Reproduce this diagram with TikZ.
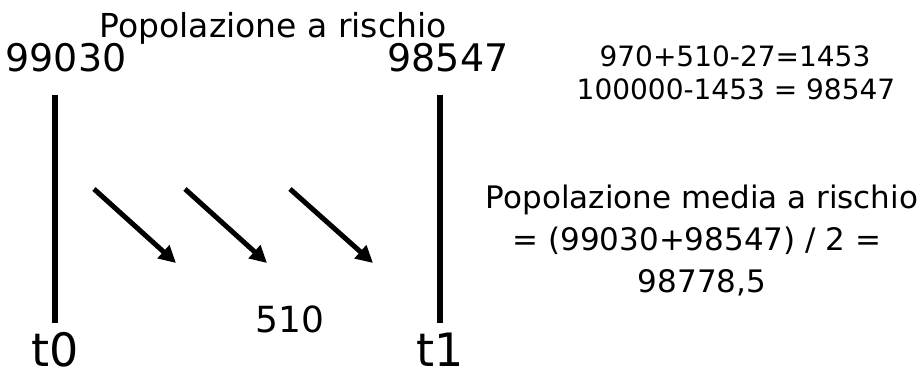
\documentclass[tikz,border=0pt]{standalone}
\usepackage{fontspec}
\setmainfont{DejaVu Sans}
\usepackage{tikz}
\usetikzlibrary{arrows.meta}
\tikzset{
  % --- text ------------------------------------------------------------------
  txt/.style={inner sep=0pt,anchor=base,font=\fontsize{#1}{#1}\selectfont},
  head/.style={txt=33},
  bignum/.style={txt=38},
  calc/.style={txt=28},
  media/.style={txt=31},
  tlab/.style={txt=46},
  % --- time axis and flows ---------------------------------------------------
  tline/.style={line width=5.5pt},
  flow/.style={-{Triangle[length=17pt,width=17pt]},line width=5pt},
}

\begin{document}
\begin{tikzpicture}[x=1pt, y=-1pt]
  \useasboundingbox (0,0) rectangle (924,377);

  \node[head]   (pop)  at (273,38)  {Popolazione a rischio};
  \node[bignum] (n0)   at (66,72)   {99030};
  \node[bignum] (n1)   at (448,72)  {98547};

  \node[calc]   (c1)   at (735,67)  {970+510-27=1453};
  \node[calc]   (c2)   at (736,100) {100000-1453 = 98547};

  \node[media]  (m1)   at (702,208) {Popolazione media a rischio};
  \node[media]  (m2)   at (697,250) {= (99030+98547) / 2 =};
  \node[media]  (m3)   at (702,292) {98778,5};

  \node[txt=36] (dead) at (290,332) {510};
  \node[tlab]   (t0)   at (55,366)  {t0};
  \node[tlab]   (t1)   at (440,366) {t1};

  % time axis at t0 and t1
  \coordinate (a0) at (55,95);  \coordinate (b0) at (55,323);
  \coordinate (a1) at (440,95); \coordinate (b1) at (440,323);
  \draw[tline] (a0) -- (b0);
  \draw[tline] (a1) -- (b1);

  % exits during the interval
  \coordinate (f1s) at (94,189);  \coordinate (f1e) at (176,263);
  \coordinate (f2s) at (185,189); \coordinate (f2e) at (267,263);
  \coordinate (f3s) at (290,189); \coordinate (f3e) at (373,263);
  \draw[flow] (f1s) -- (f1e);
  \draw[flow] (f2s) -- (f2e);
  \draw[flow] (f3s) -- (f3e);
\end{tikzpicture}
\end{document}
